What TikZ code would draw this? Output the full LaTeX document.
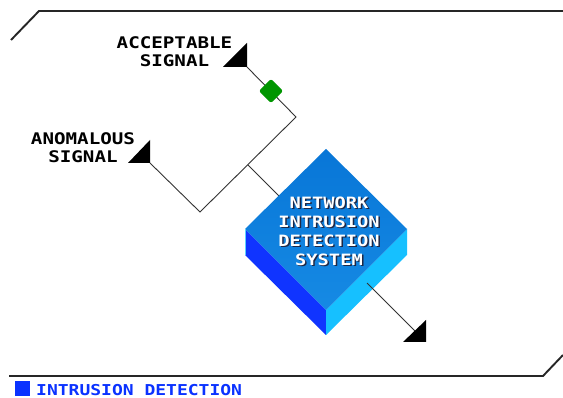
\documentclass[tikz,border=0pt]{standalone}
\usepackage{fontspec}
\newfontfamily\pixfont[FakeStretch=1.2]{DejaVu Sans Mono}
\definecolor{topface}{RGB}{22,138,228}
\definecolor{topfacedark}{RGB}{8,118,215}
\definecolor{leftface}{RGB}{16,52,255}
\definecolor{rightface}{RGB}{22,192,255}
\definecolor{okgreen}{RGB}{0,150,0}
\definecolor{legendblue}{RGB}{10,50,255}
\definecolor{shadowcol}{RGB}{30,40,70}
\tikzset{
  frame/.style={line width=1.9pt, black!85},
  wire/.style={line width=0.9pt, black!80},
  tip/.style={fill=black},
  label/.style={font=\pixfont\bfseries\fontsize{16}{18}\selectfont, align=center, inner sep=0pt},
  boxtext/.style={font=\pixfont\bfseries\fontsize{15.6}{19}\selectfont, align=center, inner sep=0pt},
}
\begin{document}
\begin{tikzpicture}[x=1pt,y=-1pt]
\useasboundingbox (0,0) rectangle (563,398);
\fill[white] (0,0) rectangle (563,398);

% outer frame
\draw[frame] (11,40) -- (39,11) -- (563,11);
\draw[frame] (9,376) -- (543,376) -- (563,355);

% isometric box corners
\coordinate (T) at (326,149);
\coordinate (L) at (245,229);
\coordinate (R) at (407,229);
\coordinate (B) at (326,310);
\coordinate (L2) at (245,255);
\coordinate (R2) at (407,255);
\coordinate (B2) at (326,335);

% signal routing points
\coordinate (acc) at (247,67);
\coordinate (knee) at (296,117);
\coordinate (junc) at (248,165);
\coordinate (valley) at (200,212);
\coordinate (ano) at (150,163);
\coordinate (entry) at (279,196);
\coordinate (exit) at (367,283);
\coordinate (out) at (424,340);

% wires
\draw[wire] (acc) -- (knee) -- (valley) -- (ano);
\draw[wire] (junc) -- (entry);

% filter node on the acceptable path
\node[fill=okgreen, minimum size=17pt, rotate=45, rounded corners=2pt, inner sep=0pt] (filter) at (271,91) {};

% box faces
\fill[leftface] (L) -- (B) -- (B2) -- (L2) -- cycle;
\fill[rightface] (B) -- (R) -- (R2) -- (B2) -- cycle;
\shade[top color=topfacedark, bottom color=topface] (T) -- (R) -- (B) -- (L) -- cycle;
\draw[rightface!70!white, line width=0.6pt] (L) -- (L2);

% output wire
\draw[wire] (exit) -- (out);

% arrow tips
\fill[tip] (223,67) -- (247,67) -- (247,43) -- cycle;
\fill[tip] (128,163) -- (150,163) -- (150,140) -- cycle;
\fill[tip] (403,342) -- (426,342) -- (426,320) -- cycle;

% labels
\node[label] (acclabel) at (174.5,52) {ACCEPTABLE\\SIGNAL};
\node[label] (anolabel) at (83,148) {ANOMALOUS\\SIGNAL};

% box title with drop shadow
\node[boxtext, text=shadowcol] (nidsshadow) at (330.5,232.5) {NETWORK\\INTRUSION\\DETECTION\\SYSTEM};
\node[boxtext, text=white] (nids) at (329,231) {NETWORK\\INTRUSION\\DETECTION\\SYSTEM};

% legend
\fill[legendblue] (15,381) rectangle (30,396);
\node[font=\pixfont\bfseries\fontsize{15}{17}\selectfont, text=legendblue, anchor=base west, inner sep=0pt] (legend) at (36,395.5) {INTRUSION DETECTION};
\end{tikzpicture}
\end{document}
